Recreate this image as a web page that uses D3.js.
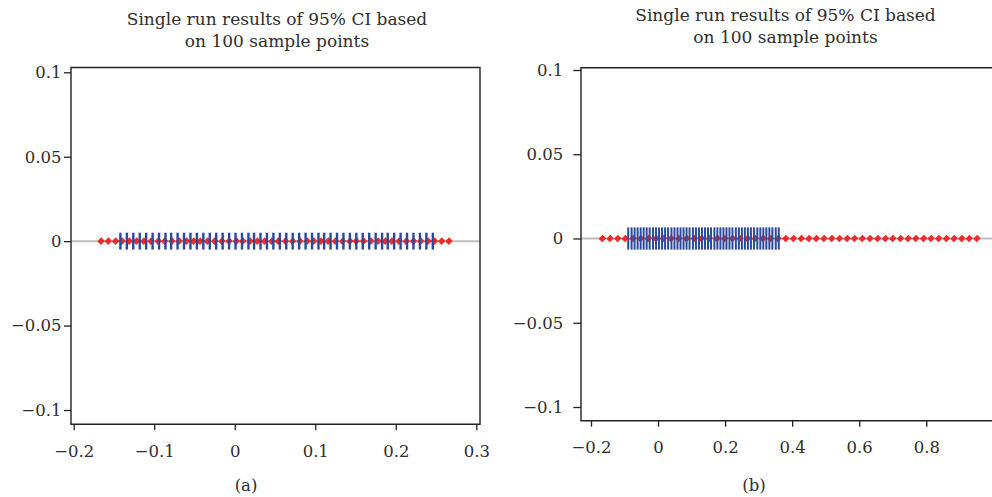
<!DOCTYPE html>
<html lang="en">
<head>
  <meta charset="UTF-8" />
  <title>Single run results of 95% CI</title>
  <style>
    html, body {
      margin: 0;
      padding: 0;
      background: #fff;
    }
    svg text {
      font-family: "DejaVu Serif", serif;
      fill: #2e2e2e;
    }
  </style>
</head>
<body>
  <svg id="viz" width="992" height="497"></svg>

  <script src="https://d3js.org/d3.v7.min.js"></script>
  <script>
    // panel (a): sample points (red) and points inside the CI (blue)
    const pointsA = [-0.166, -0.157, -0.148, -0.140, -0.131, -0.122, -0.113, -0.104, -0.095, -0.087,
      -0.078, -0.069, -0.060, -0.051, -0.043, -0.034, -0.025, -0.016, -0.007, 0.002,
      0.010, 0.019, 0.028, 0.037, 0.046, 0.054, 0.063, 0.072, 0.081, 0.090,
      0.098, 0.107, 0.116, 0.125, 0.134, 0.143, 0.151, 0.160, 0.169, 0.178,
      0.187, 0.195, 0.204, 0.213, 0.222, 0.231, 0.240, 0.248, 0.257, 0.266];
    const ciA = [-0.142, -0.134, -0.126, -0.118, -0.110, -0.102, -0.094, -0.086, -0.079, -0.071,
      -0.063, -0.055, -0.047, -0.039, -0.031, -0.023, -0.015, -0.007, 0.001, 0.009,
      0.017, 0.024, 0.032, 0.040, 0.048, 0.056, 0.064, 0.072, 0.080, 0.088,
      0.096, 0.104, 0.111, 0.119, 0.127, 0.135, 0.143, 0.151, 0.159, 0.167,
      0.175, 0.183, 0.190, 0.198, 0.206, 0.214, 0.222, 0.230, 0.238, 0.246];
    const ciHalfA = 0.005;

    // panel (b)
    const pointsB = [-0.166, -0.143, -0.120, -0.098, -0.075, -0.052, -0.029, -0.006, 0.016, 0.039,
      0.062, 0.085, 0.108, 0.130, 0.153, 0.176, 0.199, 0.222, 0.244, 0.267,
      0.290, 0.313, 0.336, 0.358, 0.381, 0.404, 0.427, 0.450, 0.472, 0.495,
      0.518, 0.541, 0.564, 0.586, 0.609, 0.632, 0.655, 0.678, 0.700, 0.723,
      0.746, 0.769, 0.792, 0.814, 0.837, 0.860, 0.883, 0.906, 0.928, 0.951];
    const ciB = [-0.089, -0.079, -0.070, -0.061, -0.052, -0.043, -0.034, -0.025, -0.015, -0.006,
      0.003, 0.012, 0.021, 0.030, 0.040, 0.049, 0.058, 0.067, 0.076, 0.085,
      0.094, 0.104, 0.113, 0.122, 0.131, 0.140, 0.149, 0.158, 0.168, 0.177,
      0.186, 0.195, 0.204, 0.213, 0.222, 0.232, 0.241, 0.250, 0.259, 0.268,
      0.277, 0.286, 0.296, 0.305, 0.314, 0.323, 0.332, 0.341, 0.351, 0.360];
    const ciHalfB = 0.0066;

    const xTicksA = [-0.2, -0.1, 0, 0.1, 0.2, 0.3];
    const xTicksB = [-0.2, 0, 0.2, 0.4, 0.6, 0.8];
    const yTicks = [-0.1, -0.05, 0, 0.05, 0.1];

    const titleLines = ["Single run results of 95% CI based", "on 100 sample points"];

    const RED = "#ee2a2a";
    const BLUE = "#2b4a9c";

    const svg = d3.select("#viz");
    const fmt = d3.format("~g");

    function drawPanel(p) {
      const x = d3.scaleLinear().domain(p.xDomain).range([p.left, p.right]);
      const y = d3.scaleLinear().domain(p.yDomain).range([p.bottom, p.top]);
      const g = svg.append("g");

      // zero line
      g.append("line")
        .attr("x1", p.left).attr("x2", p.right)
        .attr("y1", y(0)).attr("y2", y(0))
        .attr("stroke", "#bdbdbd")
        .attr("stroke-width", 2);

      // sample points
      g.selectAll(".pt")
        .data(p.points)
        .join("path")
        .attr("class", "pt")
        .attr("d", d3.symbol(d3.symbolSquare, 26)())
        .attr("transform", d => `translate(${x(d)},${y(0)}) rotate(45) scale(1,1.1)`)
        .attr("fill", RED);

      // CI bars
      g.selectAll(".ci")
        .data(p.ci)
        .join("rect")
        .attr("class", "ci")
        .attr("x", d => x(d) - p.barW / 2)
        .attr("width", p.barW)
        .attr("y", y(p.ciHalf))
        .attr("height", y(-p.ciHalf) - y(p.ciHalf))
        .attr("fill", BLUE);

      // frame
      const frame = d3.path();
      frame.moveTo(p.right, p.top);
      frame.lineTo(p.left, p.top);
      frame.lineTo(p.left, p.bottom);
      frame.lineTo(p.right, p.bottom);
      if (p.closeRight) frame.closePath();
      g.append("path")
        .attr("d", frame.toString())
        .attr("fill", "none")
        .attr("stroke", "#222")
        .attr("stroke-width", 1.4);

      // axes
      const xAxis = g.append("g")
        .attr("transform", `translate(0,${p.bottom})`)
        .call(d3.axisBottom(x).tickValues(p.xTicks).tickFormat(fmt).tickSize(6).tickPadding(15));
      const yAxis = g.append("g")
        .attr("transform", `translate(${p.left},0)`)
        .call(d3.axisLeft(y).tickValues(yTicks).tickFormat(fmt).tickSize(p.yTickSize).tickPadding(p.yPad));
      [xAxis, yAxis].forEach(a => {
        a.select(".domain").remove();
        a.selectAll(".tick line").attr("stroke", "#222").attr("stroke-width", 1.3);
        a.selectAll("text")
          .attr("fill", "#2e2e2e")
          .style("font-family", '"DejaVu Serif", serif')
          .style("font-size", "16.5px");
      });

      // title
      titleLines.forEach((t, i) => {
        g.append("text")
          .attr("x", p.titleX)
          .attr("y", p.titleY + i * 22)
          .attr("text-anchor", "middle")
          .style("font-size", "17px")
          .text(t);
      });

      // caption
      g.append("text")
        .attr("x", p.capX)
        .attr("y", 491)
        .attr("text-anchor", "middle")
        .style("font-size", "16.5px")
        .text(p.caption);
    }

    drawPanel({
      points: pointsA, ci: ciA, ciHalf: ciHalfA, xTicks: xTicksA,
      xDomain: [-0.20335, 0.3046], yDomain: [-0.10847, 0.10284],
      left: 71, right: 480, top: 67.5, bottom: 424.3,
      barW: 2.4, yTickSize: 7, yPad: 2.5, closeRight: true,
      titleX: 277, titleY: 25, capX: 246, caption: "(a)"
    });

    drawPanel({
      points: pointsB, ci: ciB, ciHalf: ciHalfB, xTicks: xTicksB,
      xDomain: [-0.2298, 1.06], yDomain: [-0.10813, 0.10137],
      left: 581, right: 581 + 1.2898 * 335.3, top: 67.7, bottom: 420.7,
      barW: 2, yTickSize: 7.7, yPad: 10, closeRight: false,
      titleX: 785.5, titleY: 20.7, capX: 754, caption: "(b)"
    });
  </script>
</body>
</html>
